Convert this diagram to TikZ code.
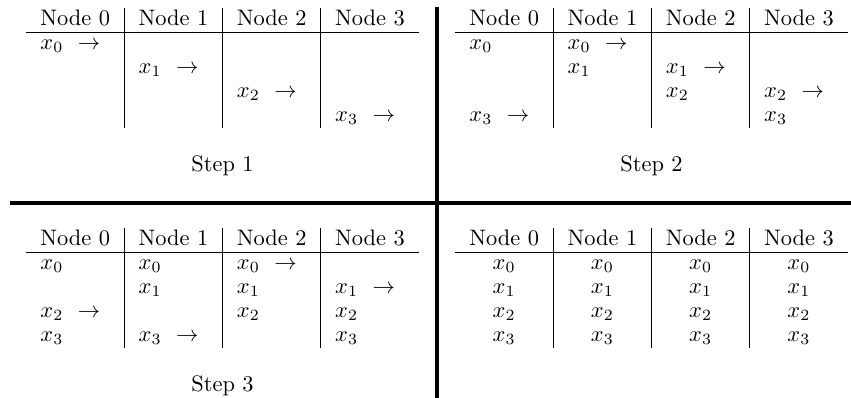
\documentclass[tikz,border=0pt]{standalone}
\newcommand\xval[1]{$x_{#1}$}
\newcommand\xarr[1]{$x_{#1}$\hspace{6.5pt}$\rightarrow$}
% table frame: #1 left x, #2 top y, #3 name prefix
\newcommand\tframe[3]{%
  \draw[tabrule] (#1,#2+24) -- (#1+393,#2+24);
  \foreach \i in {1,2,3}{\draw[tabrule] ({#1+98.25*\i},#2) -- ({#1+98.25*\i},#2+120);}
  \foreach \i in {0,1,2,3}{\node[hdr] (#3h\i) at ({#1+98.25*\i+49.125},#2+16.8) {Node \i};}
}
% left-aligned cell: #1 left x, #2 top y, #3 column, #4 row, #5 content, #6 name
\newcommand\tcell[6]{\node[cell] (#6) at ({#1+98.25*#3+14},{#2+40.8+24*#4}) {#5};}
% centred cell
\newcommand\ccellat[6]{\node[ccell] (#6) at ({#1+98.25*#3+49.125},{#2+40.8+24*#4}) {#5};}
\begin{document}
\begin{tikzpicture}[x=0.4464pt,y=-0.4464pt,
  hdr/.style={anchor=base,inner sep=0pt},
  cell/.style={anchor=base west,inner sep=0pt},
  ccell/.style={anchor=base,inner sep=0pt},
  steplabel/.style={anchor=base,inner sep=0pt},
  tabrule/.style={line width=0.45pt},
  heavy/.style={line width=1.8pt}]
\useasboundingbox (0,0) rectangle (851,398);
% separators
\draw[heavy] (437,7) -- (437,398);
\draw[heavy] (10,203) -- (851,203);
% Step 1
\tframe{26}{8.3}{a}
\tcell{26}{8.3}{0}{0}{\xarr0}{a00}
\tcell{26}{8.3}{1}{1}{\xarr1}{a11}
\tcell{26}{8.3}{2}{2}{\xarr2}{a22}
\tcell{26}{8.3}{3}{3}{\xarr3}{a33}
\node[steplabel] (s1) at (222.5,171.3) {Step 1};
% Step 2
\tframe{455}{8.3}{b}
\tcell{455}{8.3}{0}{0}{\xval0}{b00}
\tcell{455}{8.3}{0}{3}{\xarr3}{b03}
\tcell{455}{8.3}{1}{0}{\xarr0}{b10}
\tcell{455}{8.3}{1}{1}{\xval1}{b11}
\tcell{455}{8.3}{2}{1}{\xarr1}{b21}
\tcell{455}{8.3}{2}{2}{\xval2}{b22}
\tcell{455}{8.3}{3}{2}{\xarr2}{b32}
\tcell{455}{8.3}{3}{3}{\xval3}{b33}
\node[steplabel] (s2) at (651.5,171.3) {Step 2};
% Step 3
\tframe{26}{228.3}{c}
\tcell{26}{228.3}{0}{0}{\xval0}{c00}
\tcell{26}{228.3}{0}{2}{\xarr2}{c02}
\tcell{26}{228.3}{0}{3}{\xval3}{c03}
\tcell{26}{228.3}{1}{0}{\xval0}{c10}
\tcell{26}{228.3}{1}{1}{\xval1}{c11}
\tcell{26}{228.3}{1}{3}{\xarr3}{c13}
\tcell{26}{228.3}{2}{0}{\xarr0}{c20}
\tcell{26}{228.3}{2}{1}{\xval1}{c21}
\tcell{26}{228.3}{2}{2}{\xval2}{c22}
\tcell{26}{228.3}{3}{1}{\xarr1}{c31}
\tcell{26}{228.3}{3}{2}{\xval2}{c32}
\tcell{26}{228.3}{3}{3}{\xval3}{c33}
\node[steplabel] (s3) at (222.5,391.3) {Step 3};
% Final
\tframe{455}{228.3}{d}
\foreach \c in {0,1,2,3}{
  \foreach \r in {0,1,2,3}{
    \ccellat{455}{228.3}{\c}{\r}{\xval\r}{d\c\r}
  }
}
\end{tikzpicture}
\end{document}
